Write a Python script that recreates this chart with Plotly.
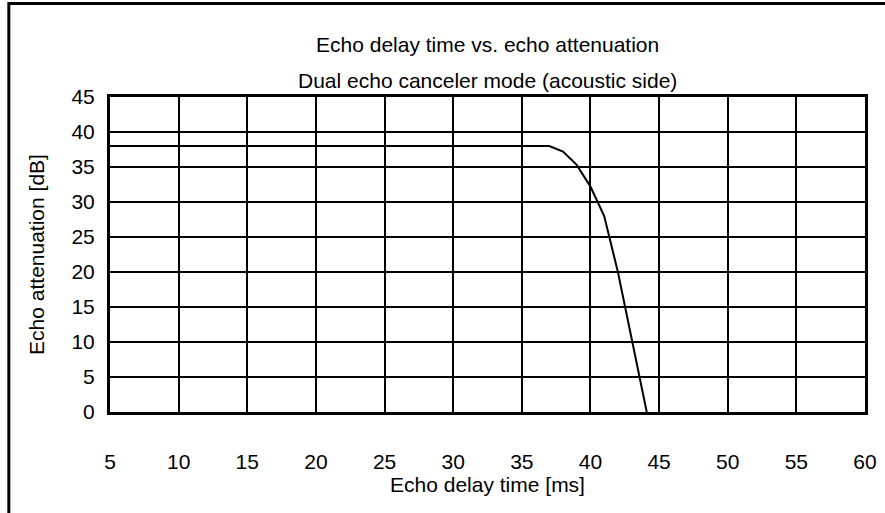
import plotly.graph_objects as go

# Echo delay time [ms] vs. echo attenuation [dB]
delay_ms = [5, 37, 38, 39, 40, 41, 42, 44.1]
attenuation_db = [38, 38, 37.2, 35.3, 32.2, 28, 20, 0]

x_ticks = list(range(5, 61, 5))
y_ticks = list(range(0, 46, 5))

FONT = "Liberation Sans, Arial, sans-serif"

fig = go.Figure()

fig.add_trace(go.Scatter(
    x=delay_ms, y=attenuation_db,
    mode='lines', line=dict(color='black', width=2),
    showlegend=False
))

fig.update_layout(
    width=885, height=513,
    margin=dict(l=110, r=20, t=97, b=101),
    paper_bgcolor='white', plot_bgcolor='white',
    font=dict(family=FONT, size=21, color='black'),
    xaxis=dict(
        range=[5, 60], tickvals=x_ticks, ticks='',
        showgrid=True, gridcolor='black', gridwidth=2,
        showline=True, linecolor='black', linewidth=3, mirror=True,
        zeroline=False, ticklabelstandoff=29, automargin=False,
        title=dict(text='Echo delay time [ms]', standoff=6, font=dict(size=21)),
    ),
    yaxis=dict(
        range=[0, 45], tickvals=y_ticks, ticks='',
        showgrid=True, gridcolor='black', gridwidth=2,
        showline=True, linecolor='black', linewidth=3, mirror=True,
        zeroline=False, ticklabelstandoff=8, automargin=False,
        title=dict(text='Echo attenuation [dB]', standoff=22, font=dict(size=21)),
    ),
    annotations=[
        dict(text='Echo delay time vs. echo attenuation', xref='paper', yref='paper',
             x=0.5, y=1.168, yanchor='middle', showarrow=False),
        dict(text='Dual echo canceler mode (acoustic side)', xref='paper', yref='paper',
             x=0.5, y=1.051, yanchor='middle', showarrow=False),
    ],
    shapes=[
        dict(type='rect', xref='paper', yref='paper',
             x0=-0.134, x1=1.04, y0=-0.36, y1=1.297,
             line=dict(color='black', width=3), layer='below'),
    ],
)

# drop the default page margin so the figure sits at the window origin
fig.write_html("out.html", config={'displayModeBar': False},
               post_script="document.body.style.margin='0';")
